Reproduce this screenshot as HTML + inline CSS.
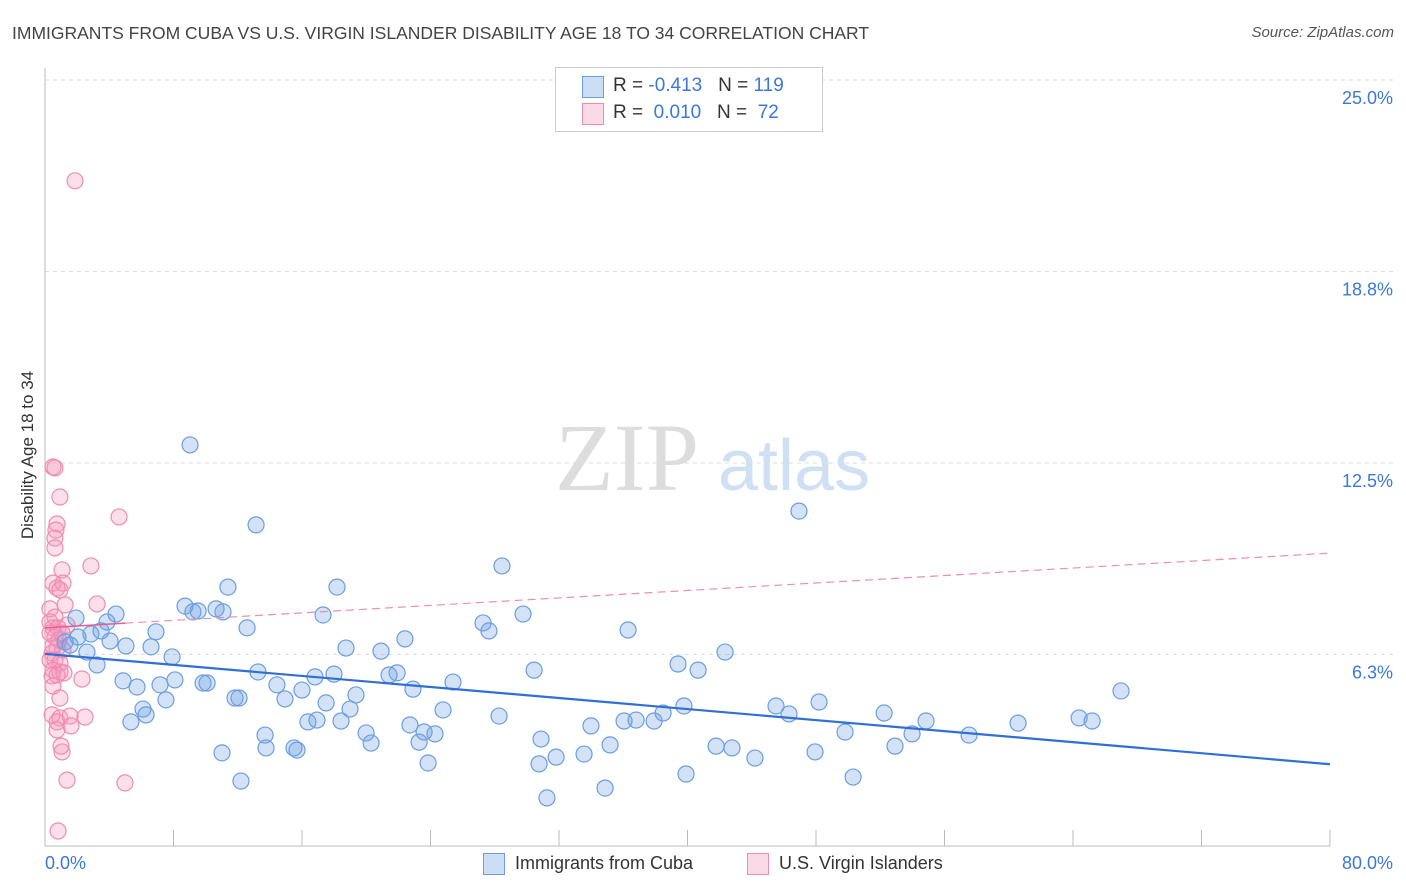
<!DOCTYPE html>
<html><head><meta charset="utf-8"><style>
body{margin:0;background:#fff;font-family:"Liberation Sans",sans-serif;}
#wrap{position:relative;width:1406px;height:892px;overflow:hidden;}
.t{position:absolute;white-space:nowrap;}
</style></head><body>
<div id="wrap">
<div class="t" style="left:12px;top:23px;font-size:17.5px;color:#444;">IMMIGRANTS FROM CUBA VS U.S. VIRGIN ISLANDER DISABILITY AGE 18 TO 34 CORRELATION CHART</div>
<div class="t" style="right:12px;top:24px;font-size:15px;color:#555;font-style:italic;">Source: ZipAtlas.com</div>
<svg id="svg" width="1406" height="892" style="position:absolute;left:0;top:0"></svg>
</div>
<script>
const yTicks=[25,18.75,12.5,6.25];
const yTickLabels=["25.0%","18.8%","12.5%","6.3%"];
const xTickLabels=["0.0%","80.0%"];
const cubaX=[9.03,13.14,46.94,28.45,11.39,18.18,8.72,9.21,9.53,10.65,11.08,4.42,1.93,3.86,17.31,29.76,27.27,27.64,36.30,22.41,6.91,12.58,3.49,2.86,2.05,1.25,1.56,4.05,5.04,6.60,18.74,20.92,2.61,7.91,3.24,13.26,16.81,17.99,21.42,21.92,30.45,39.41,40.66,42.34,4.86,5.73,8.09,7.16,9.84,10.09,14.44,16.00,22.91,25.40,66.99,7.53,11.83,12.08,14.94,19.36,17.50,18.99,24.78,39.78,38.48,45.51,48.19,6.10,6.29,5.35,28.27,16.37,16.93,18.43,22.72,33.99,36.05,36.80,37.92,46.32,52.24,54.85,60.58,64.38,65.19,13.70,19.99,23.60,24.28,30.88,49.81,53.98,57.53,20.30,35.18,13.76,15.50,15.69,23.29,41.78,42.77,33.56,11.02,31.82,44.20,47.94,52.92,23.85,30.76,12.20,39.91,50.31,34.87,31.25];
const cubaY=[13.09,10.48,10.93,9.14,8.45,8.45,7.83,7.64,7.67,7.74,7.64,7.57,7.44,7.31,7.54,7.57,7.28,7.02,7.05,6.76,6.99,7.12,7.02,6.92,6.82,6.66,6.56,6.69,6.53,6.50,6.46,6.36,6.33,6.17,5.91,5.68,5.52,5.61,5.58,5.65,5.74,5.94,5.74,6.33,5.39,5.19,5.42,5.26,5.32,5.32,5.26,5.09,5.12,5.35,5.06,4.77,4.83,4.83,4.80,4.93,4.67,4.47,4.44,4.57,4.34,4.57,4.70,4.47,4.28,4.05,4.24,4.05,4.11,4.08,3.95,3.92,4.08,4.11,4.08,4.31,4.34,4.08,4.01,4.18,4.08,3.62,3.69,3.72,3.66,3.49,3.72,3.66,3.62,3.36,3.30,3.20,3.20,3.13,3.39,3.26,3.20,3.00,3.04,2.90,2.87,3.07,3.26,2.71,2.68,2.12,2.35,2.25,1.89,1.57];
const usviX=[1.87,0.50,0.62,0.93,4.61,0.75,0.68,0.62,0.62,2.86,1.06,1.12,0.50,0.75,0.93,3.24,0.31,1.25,0.62,0.31,0.50,0.81,1.37,0.31,0.62,0.87,1.06,0.50,0.75,1.12,0.44,0.31,0.62,0.93,0.50,0.93,0.44,0.75,1.18,2.30,0.50,0.93,0.44,0.93,0.75,1.56,2.49,1.62,0.75,1.00,1.06,1.37,4.98,0.81];
const usviY=[21.71,12.37,12.34,11.39,10.74,10.51,10.31,10.05,9.73,9.14,9.01,8.58,8.58,8.42,8.36,7.90,7.74,7.87,7.47,7.31,7.12,7.12,7.21,6.95,6.82,6.72,6.95,6.53,6.46,6.40,6.30,6.07,6.07,5.97,5.74,5.68,5.55,5.58,5.65,5.45,5.22,4.83,4.28,4.18,4.05,4.24,4.21,3.92,3.79,3.26,3.07,2.15,2.06,0.49];
// reported trend (intercept %, slope per x%) for U.S. Virgin Islanders
const usviTrend=[7.12,0.0305];

const svg=document.getElementById('svg');const NS='http://www.w3.org/2000/svg';
const X0=45,X1=1330,Y0=846,Y25=80;
const sx=v=>X0+(X1-X0)*v/80;
const sy=v=>Y0-(Y0-Y25)*v/25;
function mk(t,a){const e=document.createElementNS(NS,t);for(const k in a)e.setAttribute(k,a[k]);svg.appendChild(e);return e;}
yTicks.forEach((v,i)=>{
 const g=mk('line',{x1:X0,x2:1395,y1:sy(v),y2:sy(v),stroke:'#ddd','stroke-dasharray':'4,4'});
 
 
 const t=mk('text',{x:1393,y:sy(v)+24,'text-anchor':'end','font-size':18,fill:'#3b78d8','font-family':'Liberation Sans'});
 t.textContent=yTickLabels[i];
 
 
});
const ax=mk('line',{x1:X0,x2:X0,y1:68,y2:Y0,stroke:'#bbb'});


const bx=mk('line',{x1:X0,x2:X1,y1:Y0,y2:Y0,stroke:'#bbb'});


for(let i=0;i<=10;i++){const tk=mk('line',{x1:sx(i*8),x2:sx(i*8),y1:830,y2:Y0,stroke:'#bbb'});
 
 }
const xl0=mk('text',{x:45,y:869,'font-size':18,fill:'#3b78d8','font-family':'Liberation Sans'});xl0.textContent=xTickLabels[0];


const xl1=mk('text',{x:1393,y:869,'text-anchor':'end','font-size':18,fill:'#3b78d8','font-family':'Liberation Sans'});xl1.textContent=xTickLabels[1];


const yt=mk('text',{x:33,y:455,'text-anchor':'middle','font-size':17,fill:'#333','font-family':'Liberation Sans',transform:'rotate(-90 33 455)'});yt.textContent='Disability Age 18 to 34';


const w1=mk('text',{x:555,y:490,'font-size':96,fill:'#ddd','font-family':'Liberation Serif'});w1.textContent='ZIP';


const w2=mk('text',{x:718,y:490,'font-size':72,fill:'#cfe0f4','font-family':'Liberation Sans'});w2.textContent='atlas';


function pts(xs,ys,fill,stroke,name){xs.forEach((x,i)=>{const c=mk('circle',{cx:sx(x),cy:sy(ys[i]),r:8,fill:fill,stroke:stroke,'stroke-width':1.2});
 
 });}
pts(usviX,usviY,'rgba(244,150,185,0.3)','#f08cb0','usvi-point');
pts(cubaX,cubaY,'rgba(110,160,230,0.3)','#6a9ee0','cuba-point');
function ols(xs,ys){const n=xs.length;let mx=0,my=0;xs.forEach((x,i)=>{mx+=x;my+=ys[i];});mx/=n;my/=n;let sxy=0,sxx=0;xs.forEach((x,i)=>{sxy+=(x-mx)*(ys[i]-my);sxx+=(x-mx)*(x-mx);});const b=sxy/sxx;return [my-b*mx,b];}
const [ca,cb]=ols(cubaX,cubaY);
const cl=mk('line',{x1:sx(0),y1:sy(ca),x2:sx(80),y2:sy(ca+cb*80),stroke:'#2f6fd6','stroke-width':2.2});


const [ua,ub]=usviTrend;
const ul1=mk('line',{x1:sx(0),y1:sy(ua),x2:sx(5),y2:sy(ua+ub*5),stroke:'#e06090','stroke-width':1.5});


const ul2=mk('line',{x1:sx(5),y1:sy(ua+ub*5),x2:sx(80),y2:sy(ua+ub*80),stroke:'#e890b0','stroke-width':1.2,'stroke-dasharray':'8,5'});


</script>
<div class="t" style="left:555px;top:67px;width:266px;height:63px;border:1px solid #ccc;background:#fff;">
 <div class="t" style="left:26px;top:8px;width:20px;height:20px;background:rgba(110,160,230,0.35);border:1px solid #6a9ee0;"></div>
 <div class="t" style="left:57px;top:7px;font-size:19px;color:#333;">R = <span style="color:#3b78d8">-0.413</span>&nbsp;&nbsp;&nbsp;N = <span style="color:#3b78d8">119</span></div>
 <div class="t" style="left:26px;top:35px;width:20px;height:20px;background:rgba(244,150,185,0.35);border:1px solid #f08cb0;"></div>
 <div class="t" style="left:57px;top:34px;font-size:19px;color:#333;">R = &nbsp;<span style="color:#3b78d8">0.010</span>&nbsp;&nbsp;&nbsp;N = &nbsp;<span style="color:#3b78d8">72</span></div>
</div>
<div class="t" style="left:483px;top:853px;width:20px;height:20px;background:rgba(110,160,230,0.35);border:1px solid #6a9ee0;"></div>
<div class="t" style="left:515px;top:853px;font-size:18px;color:#333;">Immigrants from Cuba</div>
<div class="t" style="left:747px;top:853px;width:20px;height:20px;background:rgba(244,150,185,0.35);border:1px solid #f08cb0;"></div>
<div class="t" style="left:779px;top:853px;font-size:18px;color:#333;">U.S. Virgin Islanders</div>
</body></html>
